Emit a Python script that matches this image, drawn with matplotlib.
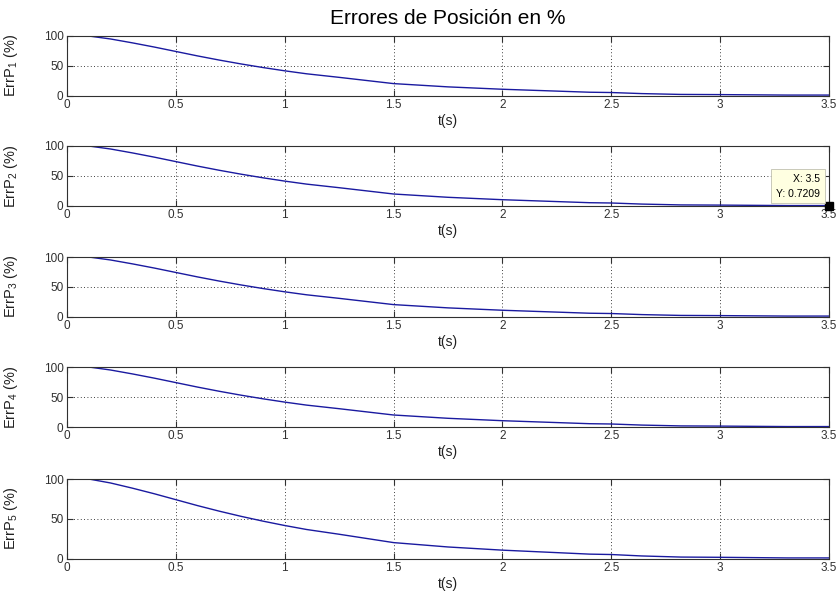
import matplotlib
matplotlib.use("Agg")
import matplotlib.pyplot as plt

plt.rcParams['font.family'] = ['Liberation Sans', 'DejaVu Sans']
plt.rcParams['mathtext.fontset'] = 'custom'
plt.rcParams['mathtext.rm'] = 'Liberation Sans'
plt.rcParams['mathtext.it'] = 'Liberation Sans'

# Data (all five joints show the same curve)
t = [0.1, 0.2, 0.3, 0.4, 0.5, 0.6, 0.7, 0.8, 0.9, 1.0, 1.1, 1.25, 1.5,
     1.75, 2.0, 2.2, 2.4, 2.5, 2.64, 2.82, 3.0, 3.31, 3.5]
err = [100, 95, 88.5, 81.5, 74, 66.5, 59.5, 53, 47, 41.5, 36.5, 30.5, 20,
       14.5, 10.5, 8, 5.5, 5, 3.2, 1.8, 1.5, 0.72, 0.7209]
series = {1: err, 2: err, 3: err, 4: err, 5: err}

x_ticks = [0, 0.5, 1, 1.5, 2, 2.5, 3, 3.5]
x_ticklabels = ['0', '0.5', '1', '1.5', '2', '2.5', '3', '3.5']
y_ticks = [0, 50, 100]
title = 'Errores de Posición en %'
xlabel = 't(s)'
tip_x = 3.5
tip_y = 0.7209

W, H = 840, 600
fig = plt.figure(figsize=(W / 100, H / 100), dpi=100)
fig.patch.set_facecolor('white')

left, right = 67, 829
panels = [(36, 95.5), (146, 206), (257, 316.5), (367, 427), (479, 558.5)]

line_color = '#1a1aa0'
axes = []
for i, (top, bot) in enumerate(panels, start=1):
    ax = fig.add_axes([left / W, 1 - bot / H, (right - left) / W, (bot - top) / H])
    ax.plot(t, series[i], color=line_color, lw=1.0)
    ax.set_xlim(0, 3.5)
    ax.set_ylim(0, 100)
    ax.set_xticks(x_ticks)
    ax.set_xticklabels(x_ticklabels)
    ax.set_yticks(y_ticks)
    ax.grid(True, color='black', linestyle=(0, (1, 3)), lw=0.6)
    ax.tick_params(direction='in', length=4, width=0.8, top=True, right=True,
                   labelsize=8.5, pad=2.5, colors='#303030')
    for s in ax.spines.values():
        s.set_color('#303030')
        s.set_linewidth(0.8)
    ax.set_xlabel(xlabel, fontsize=10, labelpad=2, color='#202020')
    ax.set_ylabel(r'ErrP$_{%d}$ (%%)' % i, fontsize=10.5, color='#202020')
    ax.yaxis.set_label_coords(-(left - 20) / (right - left), 0.5)
    axes.append(ax)

fig.text((left + right) / 2 / W, 1 - 18 / H, title, ha='center', va='center',
         fontsize=15)

# data tip on panel 2
ax2 = axes[1]
ax2.plot([tip_x], [tip_y], marker='s', color='black', ms=6, clip_on=False, zorder=5)
ax2.annotate('X: %g\nY: %.4f' % (tip_x, tip_y), xy=(tip_x, tip_y),
             xytext=(-9, 7), textcoords='offset pixels', ha='right', va='bottom',
             fontsize=7.5, multialignment='right', linespacing=1.55,
             bbox=dict(boxstyle='square,pad=0.45', fc='#ffffe1', ec='#c0c0b0', lw=0.6),
             zorder=6, annotation_clip=False)

fig.savefig('out.png', dpi=100)
